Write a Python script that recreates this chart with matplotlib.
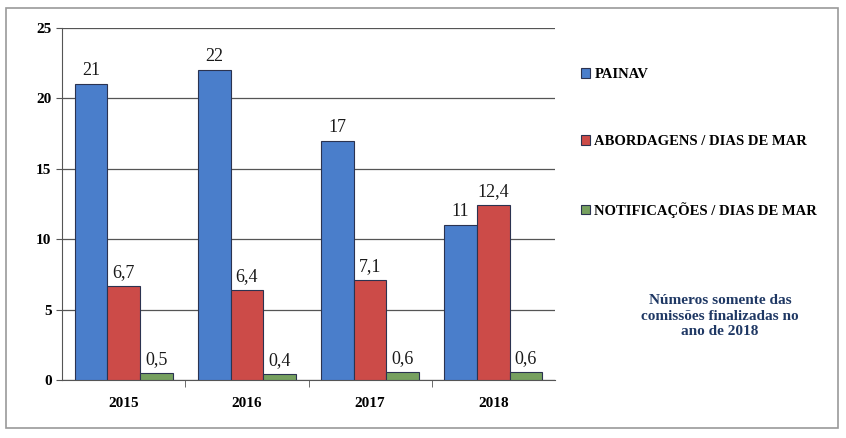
import matplotlib.pyplot as plt
import numpy as np
from matplotlib.patches import Rectangle

anos = ['2015', '2016', '2017', '2018']
painav = [21, 22, 17, 11]
abordagens = [6.7, 6.4, 7.1, 12.4]
notificacoes = [0.5, 0.4, 0.6, 0.6]
series = ['PAINAV', 'ABORDAGENS / DIAS DE MAR', 'NOTIFICAÇÕES / DIAS DE MAR']
cores = ['#4A7ECB', '#CC4B48', '#76A05F']

plt.rcParams['font.family'] = ['Liberation Serif', 'DejaVu Serif']
plt.rcParams['font.weight'] = 'bold'

fig = plt.figure(figsize=(8.46, 4.38), dpi=100)
fig.patches.append(Rectangle((6 / 846, 10 / 438), 832 / 846, 420 / 438,
                             transform=fig.transFigure, fill=False,
                             edgecolor='#9a9a9a', linewidth=1.2))
ax = fig.add_axes([62 / 846, 1 - 380 / 438, 493 / 846, 352 / 438])

x = np.arange(len(anos))
w = 0.265
for k, (vals, cor, nome) in enumerate(zip([painav, abordagens, notificacoes], cores, series)):
    pos = x + (k - 1) * w
    barras = ax.bar(pos, vals, w, color=cor, edgecolor='#2b3350', linewidth=0.8,
                    label=nome, zorder=3)
    for b, v in zip(barras, vals):
        txt = ('%g' % v).replace('.', ',')
        ax.text(b.get_x() + b.get_width() / 2, v + 0.35, txt, ha='center', va='bottom',
                fontsize=13, fontweight='normal', color='#1a1a1a', zorder=4)

ax.set_ylim(0, 25)
ax.set_xlim(-0.5, 3.5)
ax.set_yticks([0, 5, 10, 15, 20, 25])
ax.yaxis.grid(True, color='#555555', linewidth=0.9, zorder=0)
ax.set_xticks(x)
ax.set_xticklabels(anos, fontsize=11, fontweight='bold')
ax.set_xticks([0.5, 1.5, 2.5], minor=True)
ax.tick_params(axis='x', which='major', length=0, pad=12)
ax.tick_params(axis='x', which='minor', length=5, color='#555555')
ax.tick_params(axis='y', labelsize=11, length=4, color='#555555')
for s in ['top', 'right']:
    ax.spines[s].set_visible(False)
ax.spines['left'].set_color('#555555')
ax.spines['bottom'].set_color('#555555')

fig.legend(loc='upper left', bbox_to_anchor=(568 / 846, 1 - 55 / 438), frameon=False,
           labelspacing=3.7, handlelength=0.6, handleheight=0.6,
           handletextpad=0.3, prop={'weight': 'bold', 'size': 10.5})

fig.text(720 / 846, 1 - 316 / 438,
         'Números somente das\ncomissões finalizadas no\nano de 2018',
         ha='center', va='center', fontsize=11, fontweight='bold', color='#1F3864',
         linespacing=1.25)

fig.savefig('out.png', dpi=100)
